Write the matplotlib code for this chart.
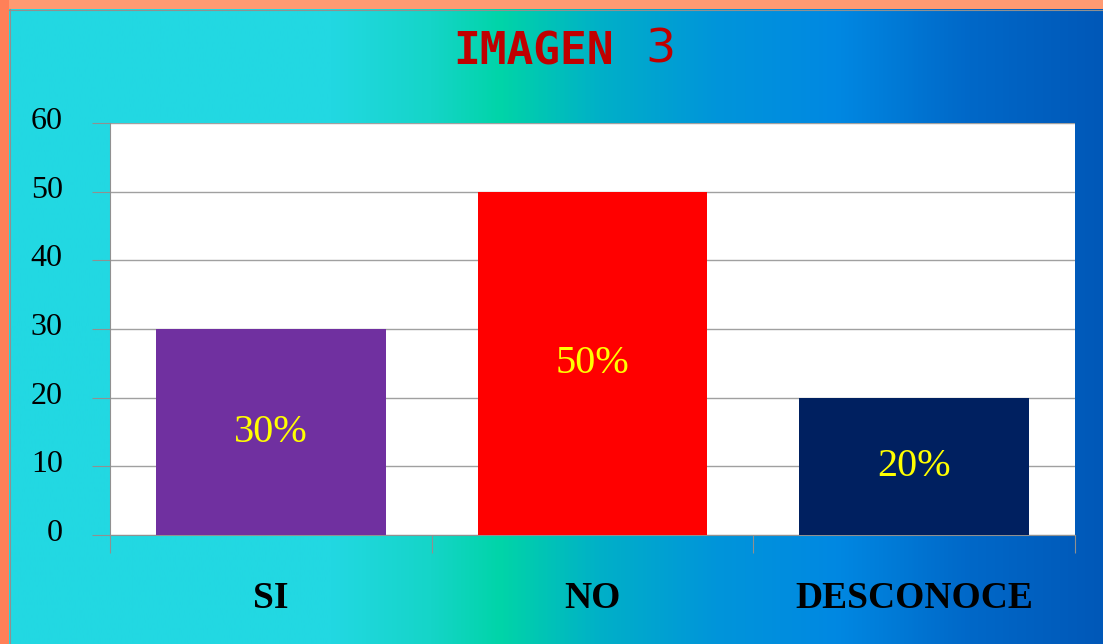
import numpy as np
import matplotlib
matplotlib.use("Agg")
import matplotlib.pyplot as plt
import matplotlib.transforms as mtransforms
from matplotlib.colors import LinearSegmentedColormap

categories = ["SI", "NO", "DESCONOCE"]
values = [30, 50, 20]
labels = ["30%", "50%", "20%"]
bar_colors = ["#7030A0", "#FF0000", "#002060"]
yticks = [0, 10, 20, 30, 40, 50, 60]
title_word = "IMAGEN"
title_num = "3"

W, H = 1103, 644
fig = plt.figure(figsize=(W / 100, H / 100), dpi=100)

# background gradient
bg = fig.add_axes([0, 0, 1, 1])
bg.set_xlim(0, W)
bg.set_ylim(H, 0)
bg.axis("off")
stops = [(0.0, "#22D8E2"), (0.30, "#22D8E2"), (0.39, "#15D5C8"),
         (0.455, "#00D4A8"), (0.545, "#00B0C8"), (0.65, "#0095DA"),
         (0.76, "#0088E2"), (0.88, "#0068C8"), (1.0, "#0058B8")]
cmap = LinearSegmentedColormap.from_list("bgc", stops)
grad = np.linspace(0, 1, 512).reshape(1, -1)
bg.imshow(grad, cmap=cmap, aspect="auto", extent=[0, W, H, 0])
# orange border top and left
bg.add_patch(plt.Rectangle((0, 0), W, 9, color="#FF9A72", lw=0))
bg.add_patch(plt.Rectangle((0, 0), 9, H, color="#FF8058", lw=0))
bg.plot([9, W], [9.5, 9.5], color="#909090", lw=0.8)
bg.plot([9.5, 9.5], [9, H], color="#909090", lw=0.8)

ax = fig.add_axes([110 / W, 1 - 535 / H, (1075 - 110) / W, (535 - 123) / H])
ax.set_facecolor("white")
x = np.arange(len(categories))
bars = ax.bar(x, values, width=0.715, color=bar_colors, zorder=3)
ax.set_xlim(-0.5, len(categories) - 0.5)
ax.set_ylim(0, 60)
ax.set_yticks(yticks)
ax.set_yticklabels([str(v) for v in yticks], fontsize=23, family="Liberation Serif")
ax.yaxis.grid(True, color="#A0A0A0", lw=1, zorder=0)
for s in ["top", "right"]:
    ax.spines[s].set_visible(False)
ax.spines["left"].set_color("#909090")
ax.spines["bottom"].set_color("#909090")
ax.tick_params(axis="y", length=13, color="#909090", pad=21)
ax.set_xticks(np.arange(len(categories) + 1) - 0.5)
ax.set_xticklabels([])
ax.tick_params(axis="x", length=13, color="#909090")
shift = mtransforms.ScaledTranslation(0, 5 / 100, fig.dpi_scale_trans)
for lab in ax.get_yticklabels():
    lab.set_transform(lab.get_transform() + shift)
for i, c in enumerate(categories):
    ax.text(i, -9.3, c, ha="center", va="center", fontsize=27, fontweight="bold",
            family="Liberation Serif", color="black")

for b, lab in zip(bars, labels):
    ax.text(b.get_x() + b.get_width() / 2, b.get_height() / 2, lab, ha="center",
            va="center", fontsize=29, color="#FFFF00", family="Liberation Serif")

fig.text(614 / W, 1 - 52 / H, title_word, ha="right", va="center", fontsize=32,
         fontweight="bold", color="#C00000", family="DejaVu Sans Mono")
fig.text(645 / W, 1 - 50 / H, title_num, ha="left", va="center", fontsize=34,
         color="#C00000", family="DejaVu Sans")

fig.savefig("out.png", dpi=100)
